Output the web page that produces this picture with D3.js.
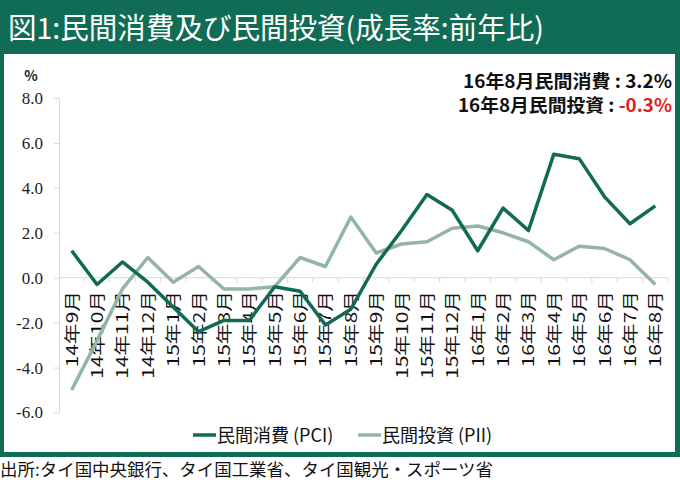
<!DOCTYPE html>
<html>
<head>
<meta charset="utf-8">
<script src="https://cdn.jsdelivr.net/npm/d3@7"></script>
<style>
  body { margin: 0; background: #fff; }
  svg text { font-family: "Noto Sans CJK JP", "Noto Sans", sans-serif; }
</style>
</head>
<body>
<svg id="chart" width="680" height="480"></svg>
<script>
/************************* Data *************************/
const months = [
  "14年9月", "14年10月", "14年11月", "14年12月",
  "15年1月", "15年2月", "15年3月", "15年4月", "15年5月", "15年6月",
  "15年7月", "15年8月", "15年9月", "15年10月", "15年11月", "15年12月",
  "16年1月", "16年2月", "16年3月", "16年4月", "16年5月", "16年6月",
  "16年7月", "16年8月"
];
const pci = [1.2, -0.3, 0.7, -0.2, -1.3, -2.4, -1.9, -1.9, -0.4, -0.6,
  -2.1, -1.4, 0.6, 2.1, 3.7, 3.0, 1.2, 3.1, 2.1, 5.5, 5.3, 3.6, 2.4, 3.2];
const pii = [-5.0, -2.8, -0.5, 0.9, -0.2, 0.5, -0.5, -0.5, -0.4, 0.9,
  0.5, 2.7, 1.1, 1.5, 1.6, 2.2, 2.3, 2.0, 1.6, 0.8, 1.4, 1.3, 0.8, -0.3];
const yTicks = [-6, -4, -2, 0, 2, 4, 6, 8];
const seriesNames = ["民間消費 (PCI)", "民間投資 (PII)"];

/************************* Constants *************************/
const GREEN = "#106c55";
const PCI_COLOR = "#116b54";
const PII_COLOR = "#94b5a6";
const AXIS_COLOR = "#d9d9d9";

const svg = d3.select("#chart");

// Frame: green header + border, white inner panel
svg.append("rect").attr("x", 0).attr("y", 0).attr("width", 680).attr("height", 457).attr("fill", GREEN);
svg.append("rect").attr("x", 4).attr("y", 54).attr("width", 671).attr("height", 398).attr("fill", "#fff");

svg.append("text")
  .attr("x", 8).attr("y", 39)
  .attr("textLength", 536).attr("lengthAdjust", "spacingAndGlyphs")
  .style("font-size", "29px").style("font-weight", 400).attr("fill", "#fff")
  .text("図1:民間消費及び民間投資(成長率:前年比)");

// Footer
svg.append("text")
  .attr("x", 0).attr("y", 476)
  .attr("textLength", 493).attr("lengthAdjust", "spacingAndGlyphs")
  .style("font-size", "17px").attr("fill", "#111")
  .text("出所:タイ国中央銀行、タイ国工業省、タイ国観光・スポーツ省");

/************************* Scales *************************/
const x = d3.scaleBand().domain(months).range([59, 668]).padding(0);
const y = d3.scaleLinear().domain([-6, 8]).range([412.5, 98]);
const cx = d => x(d) + x.bandwidth() / 2;

// Y axis
const yAxis = svg.append("g")
  .attr("transform", "translate(59,0)")
  .call(d3.axisLeft(y).tickValues(yTicks).tickFormat(d => d.toFixed(1)).tickSize(5).tickSizeOuter(0).tickPadding(11));
yAxis.select(".domain").attr("stroke", AXIS_COLOR);
yAxis.selectAll(".tick line").attr("stroke", AXIS_COLOR);
yAxis.selectAll(".tick text")
  .style("font-family", "'Liberation Serif', serif").style("font-size", "17px").attr("fill", "#222");

svg.append("text")
  .attr("x", 31).attr("y", 81).attr("text-anchor", "middle")
  .style("font-size", "14px").style("font-weight", 700).attr("fill", "#222")
  .text("%");

// X axis along zero line, ticks on category boundaries
const xAxis = svg.append("g");
xAxis.append("line")
  .attr("x1", 59).attr("x2", 668).attr("y1", y(0)).attr("y2", y(0))
  .attr("stroke", AXIS_COLOR);
xAxis.selectAll("line.tick")
  .data(months.slice(1).concat(["_end"]))
  .join("line").attr("class", "tick")
  .attr("x1", d => d === "_end" ? 668 : x(d))
  .attr("x2", d => d === "_end" ? 668 : x(d))
  .attr("y1", y(0)).attr("y2", y(0) + 5)
  .attr("stroke", AXIS_COLOR);
// labels are condensed in the reference: stretch along the text direction
xAxis.selectAll("text")
  .data(months)
  .join("text")
  .attr("transform", d => `translate(${cx(d) + 6},291) rotate(-90) scale(1.3,1)`)
  .attr("text-anchor", "end")
  .style("font-size", "16px").attr("fill", "#111")
  .text(d => d);

/************************* Lines *************************/
const line = d3.line().x((d, i) => cx(months[i])).y(d => y(d));

svg.append("path").datum(pii)
  .attr("d", line).attr("fill", "none")
  .attr("stroke", PII_COLOR).attr("stroke-width", 3.5).attr("stroke-linejoin", "round");
svg.append("path").datum(pci)
  .attr("d", line).attr("fill", "none")
  .attr("stroke", PCI_COLOR).attr("stroke-width", 3.5).attr("stroke-linejoin", "round");

/************************* Annotations *************************/
const note = svg.append("g").style("font-weight", 700).style("font-size", "18px");
note.append("text")
  .attr("x", 672).attr("y", 88).attr("text-anchor", "end").attr("fill", "#111")
  .attr("textLength", 209).attr("lengthAdjust", "spacingAndGlyphs")
  .text(`16年8月民間消費 : ${pci[pci.length - 1].toFixed(1)}%`);
const note2 = note.append("text")
  .attr("x", 672).attr("y", 112).attr("text-anchor", "end").attr("fill", "#111")
  .attr("textLength", 214).attr("lengthAdjust", "spacingAndGlyphs");
note2.append("tspan").text("16年8月民間投資 : ");
note2.append("tspan").attr("fill", "#e0201b").text(`${pii[pii.length - 1] < 0 ? "-" : ""}${Math.abs(pii[pii.length - 1]).toFixed(1)}%`);

/************************* Legend *************************/
const legendItems = [
  {name: seriesNames[0], color: PCI_COLOR, x: 193},
  {name: seriesNames[1], color: PII_COLOR, x: 358}
];
const legend = svg.append("g").selectAll("g")
  .data(legendItems).join("g")
  .attr("transform", d => `translate(${d.x},435)`);
legend.append("line")
  .attr("x1", 0).attr("x2", 23).attr("y1", 0).attr("y2", 0)
  .attr("stroke", d => d.color).attr("stroke-width", 3.5);
legend.append("text")
  .attr("x", 24).attr("y", 6.5)
  .style("font-size", "18px").attr("fill", "#111")
  .text(d => d.name);
</script>
</body>
</html>
